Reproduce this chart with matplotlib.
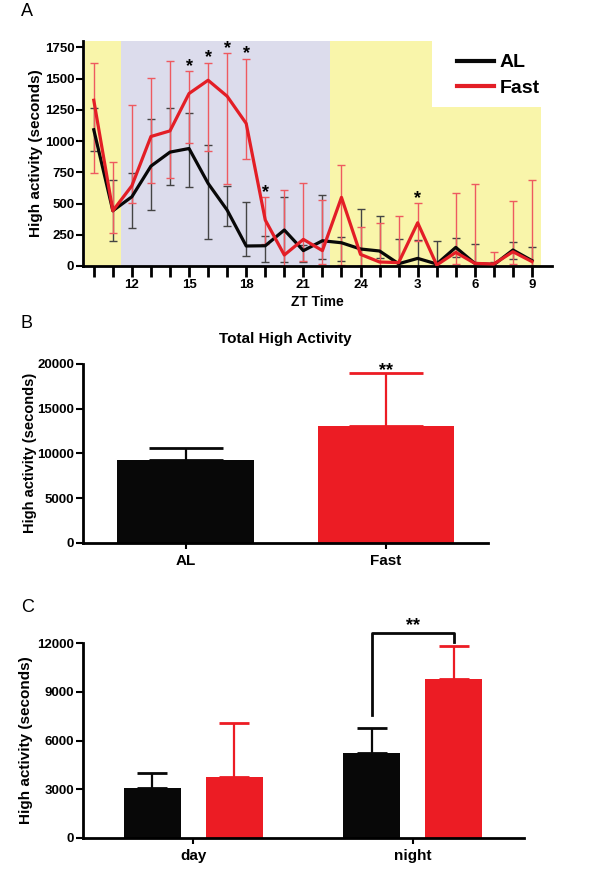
import numpy as np
import matplotlib.pyplot as plt
from matplotlib.patches import Rectangle

plt.rcParams['font.family'] = ['Liberation Sans', 'DejaVu Sans']
plt.rcParams['font.weight'] = 'bold'

# Panel A: hourly high activity (ZT 10 .. ZT 9 next day)
hours = list(range(10, 34))
al_mean = [1090, 442, 554, 799, 911, 940, 661, 447, 160, 162, 288, 123,
           202, 186, 136, 120, 18, 61, 16, 149, 21, 11, 128, 43]
al_hi = [1263, 687, 746, 1177, 1263, 1223, 972, 639, 514, 240, 554, 170,
         565, 230, 455, 402, 213, 208, 197, 226, 176, 30, 189, 149]
al_lo = [919, 200, 306, 447, 645, 634, 213, 322, 80, 35, 35, 30,
         53, 43, 0, 67, 0, 0, 0, 70, 0, 0, 60, 0]
fast_mean = [1326, 442, 642, 1036, 1081, 1380, 1486, 1358, 1140, 368, 88, 213,
             123, 549, 93, 32, 27, 346, 8, 109, 21, 16, 114, 35]
fast_hi = [1628, 831, 1292, 1508, 1641, 1561, 1628, 1705, 1660, 554, 607, 666,
           527, 812, 312, 344, 397, 501, 30, 581, 658, 114, 522, 685]
fast_lo = [746, 261, 501, 661, 706, 986, 919, 653, 860, 180, 0, 40,
           20, 8, 0, 0, 0, 200, 0, 20, 0, 0, 20, 0]
star_hours = [15, 16, 17, 18, 19, 27]
xtick_pos = [12, 15, 18, 21, 24, 27, 30, 33]
xtick_lab = ['12', '15', '18', '21', '24', '3', '6', '9']
light_periods = [(9.55, 11.45, 'light'), (11.45, 22.4, 'dark'), (22.4, 33.45, 'light')]

# Panel B: total
groups = ['AL', 'Fast']
total_mean = [9255, 13096]
total_err = [1378, 5929]

# Panel C: day / night
periods = ['day', 'night']
al_dn = [3088, 5212]
al_dn_err = [926, 1544]
fast_dn = [3767, 9783]
fast_dn_err = [3298, 2075]

RED = '#ec1c24'
BLACK = '#080808'
W, H = 592, 875

fig = plt.figure(figsize=(W / 100, H / 100), dpi=100)


def style(ax):
    for s in ['top', 'right']:
        ax.spines[s].set_visible(False)
    for s in ['left', 'bottom']:
        ax.spines[s].set_linewidth(2)
    ax.tick_params(width=1.5, length=5, labelsize=9.5, pad=1.5)
    for lab in ax.get_xticklabels() + ax.get_yticklabels():
        lab.set_fontweight('bold')


# ---------------- A ----------------
axA = fig.add_axes([83.3 / W, 1 - 266 / H, (552 - 83.3) / W, 225 / H])
for x0, x1, kind in light_periods:
    axA.axvspan(x0, x1, color='#f9f5aa' if kind == 'light' else '#dcdcec', lw=0, zorder=0)
axA.add_patch(Rectangle((27.75, 1270), 5.8, 560, color='white', lw=0, zorder=0.5))

h = np.array(hours)
for mean, lo, hi, col, ecol in [(al_mean, al_lo, al_hi, BLACK, '#444444'),
                                (fast_mean, fast_lo, fast_hi, '#e31e26', '#ee5a60')]:
    mean, lo, hi = np.array(mean), np.array(lo), np.array(hi)
    axA.errorbar(h, mean, yerr=[mean - lo, hi - mean], fmt='none', ecolor=ecol,
                 elinewidth=1, capsize=3, capthick=1, zorder=2)
lA, = axA.plot(h, al_mean, color=BLACK, lw=2.3, zorder=3, label='AL')
lF, = axA.plot(h, fast_mean, color='#e31e26', lw=2.3, zorder=4, label='Fast')
for sh in star_hours:
    axA.annotate('*', xy=(sh, fast_hi[hours.index(sh)]), xytext=(0, 0),
                 textcoords='offset points', ha='center', va='baseline',
                 fontsize=13, fontweight='bold')

axA.set_xlim(9.45, 34.05)
axA.set_ylim(0, 1800)
axA.set_yticks(range(0, 1751, 250))
axA.set_xticks(hours, minor=True)
axA.set_xticks(xtick_pos)
axA.set_xticklabels(xtick_lab)
style(axA)
axA.tick_params(axis='x', which='both', length=8, width=2)
axA.set_xlabel('ZT Time', fontsize=10, fontweight='bold', labelpad=3)
axA.set_ylabel('High activity (seconds)', fontsize=11, fontweight='bold')
axA.yaxis.set_label_coords(-0.087, 0.5)
axA.legend(handles=[lA, lF], loc='upper left', bbox_to_anchor=(447 / W, 1 - 44 / H),
           bbox_transform=fig.transFigure, frameon=False,
           handlelength=1.9, handletextpad=0.3, labelspacing=0.4, borderpad=0,
           prop={'weight': 'bold', 'size': 14})
for lh in axA.get_legend().get_lines():
    lh.set_linewidth(3)

# ---------------- B ----------------
axB = fig.add_axes([83.3 / W, 1 - 542.7 / H, (488.3 - 83.3) / W, (542.7 - 364) / H])
xb = np.arange(len(groups))
axB.bar(xb, total_mean, width=0.68, color=[BLACK, RED], zorder=2)
for i in range(len(groups)):
    c = [BLACK, RED][i]
    axB.errorbar(xb[i], total_mean[i], yerr=[[0], [total_err[i]]], fmt='none',
                 ecolor=c, elinewidth=1.6, capsize=26.5, capthick=2, zorder=1)
axB.annotate('**', xy=(1, total_mean[1] + total_err[1]), xytext=(0, -1.5),
             textcoords='offset points', ha='center', va='baseline',
             fontsize=13, fontweight='bold')
axB.set_xlim(-0.51, 1.51)
axB.set_ylim(0, 20000)
axB.set_yticks(range(0, 20001, 5000))
axB.set_xticks(xb)
axB.set_xticklabels(groups)
style(axB)
axB.tick_params(axis='x', labelsize=11, length=4, pad=4)
axB.set_title('Total High Activity', fontsize=11, fontweight='bold', pad=15)
axB.set_ylabel('High activity (seconds)', fontsize=10.5, fontweight='bold')
axB.yaxis.set_label_coords(-0.115, 0.5)

# ---------------- C ----------------
axC = fig.add_axes([83.3 / W, 1 - 837.7 / H, (523.7 - 83.3) / W, (837.7 - 643.3) / H])
xc = np.arange(len(periods))
off, bw = 0.187, 0.26
axC.bar(xc - off, al_dn, width=bw, color=BLACK, zorder=2)
axC.bar(xc + off, fast_dn, width=bw, color=RED, zorder=2)
axC.errorbar(xc - off, al_dn, yerr=[np.zeros(2), al_dn_err], fmt='none', ecolor=BLACK,
             elinewidth=1.6, capsize=10.8, capthick=2, zorder=1)
axC.errorbar(xc + off, fast_dn, yerr=[np.zeros(2), fast_dn_err], fmt='none', ecolor=RED,
             elinewidth=1.6, capsize=10.8, capthick=2, zorder=1)
# significance bracket for night
top = fast_dn[1] + fast_dn_err[1] + 800
axC.plot([1 - off, 1 - off, 1 + off, 1 + off],
         [al_dn[1] + al_dn_err[1] + 820, top, top, fast_dn[1] + fast_dn_err[1] + 250],
         color=BLACK, lw=2, clip_on=False)
axC.annotate('**', xy=(1, top), xytext=(0, 2), textcoords='offset points',
             ha='center', va='baseline', fontsize=13, fontweight='bold',
             annotation_clip=False)
axC.set_xlim(-0.501, 1.506)
axC.set_ylim(0, 12000)
axC.set_yticks(range(0, 12001, 3000))
axC.set_xticks(xc)
axC.set_xticklabels(periods)
style(axC)
axC.tick_params(axis='x', labelsize=11, length=4, pad=4)
axC.set_ylabel('High activity (seconds)', fontsize=11, fontweight='bold')
axC.yaxis.set_label_coords(-0.1135, 0.5)

# panel letters
for letter, y in [('A', 11), ('B', 324), ('C', 607)]:
    fig.text(21 / W, 1 - y / H, letter, fontsize=13, fontweight='normal', va='center')

fig.savefig('out.png', dpi=100)
